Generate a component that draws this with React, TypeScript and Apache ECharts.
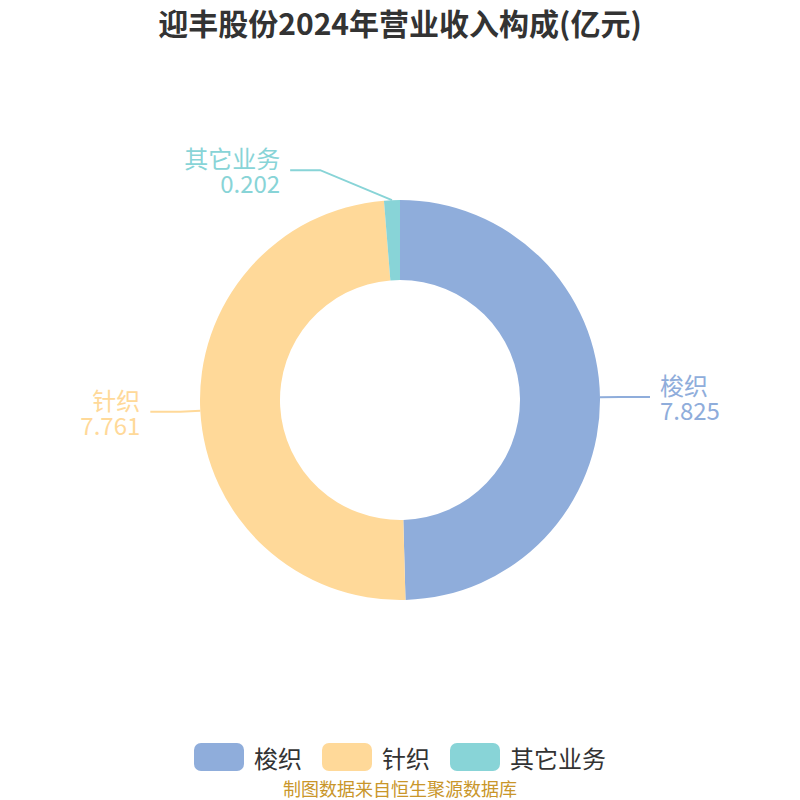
import React, { useRef, useEffect } from "react";
import * as echarts from "echarts";

const categories = ["梭织", "针织", "其它业务"];
const values = [7.825, 7.761, 0.202];
const colors = ["#8FADDB", "#FFD999", "#88D4D7"];
const titleText = "迎丰股份2024年营业收入构成(亿元)";
const sourceText = "制图数据来自恒生聚源数据库";

const App = function () {
  const chart = useRef<HTMLDivElement>(null);

  useEffect(() => {
    document.body.style.margin = "0";
    if (!chart.current) return;
    const myChart = echarts.init(chart.current, undefined, { renderer: "svg" });
    const option = {
      animation: false,
      textStyle: { fontFamily: "Noto Sans CJK SC" },
      color: colors,
      title: {
        text: titleText,
        left: "center",
        top: 4,
        padding: [2, 0, 0, 0],
        textStyle: {
          fontSize: 30,
          lineHeight: 32,
          fontWeight: "bold",
          color: "#333",
          fontFamily: "Noto Sans CJK SC",
        },
      },
      legend: {
        data: categories,
        left: "center",
        top: 738,
        icon: "roundRect",
        itemWidth: 50,
        itemHeight: 28,
        itemGap: 20,
        textStyle: { fontSize: 24, color: "#333", padding: [0, 0, 0, 5] },
      },
      graphic: [
        {
          type: "text",
          left: "center",
          top: 779,
          style: {
            text: sourceText,
            fontSize: 18,
            fill: "#C9962A",
            fontFamily: "Noto Sans CJK SC",
          },
        },
      ],
      series: [
        {
          name: "营业收入",
          type: "pie",
          center: ["50%", "50%"],
          radius: ["30%", "50%"],
          data: categories.map((name, i) => ({
            name,
            value: values[i],
            itemStyle: { color: colors[i] },
            label: { color: colors[i] },
            labelLine: { lineStyle: { color: colors[i] } },
          })),
          label: {
            show: true,
            position: "outside",
            formatter: "{b}\n{c}",
            fontSize: 24,
            lineHeight: 25,
            padding: [0, 10],
            distanceToLabelLine: 0,
          },
          labelLine: {
            show: true,
            length: 20,
            length2: 30,
            lineStyle: { width: 2 },
          },
          labelLayout: (params: any) => {
            // the small slice's label sits higher and further left
            if (params.dataIndex === 2) {
              const r = params.labelRect;
              return { x: r.x + r.width - 71, y: r.y + r.height / 2 - 10 };
            }
            return {};
          },
        },
      ],
    };
    myChart.setOption(option);
    return () => {
      myChart.dispose();
    };
  }, []);

  return <div ref={chart} style={{ width: "800px", height: "800px" }}></div>;
};

export default App;
